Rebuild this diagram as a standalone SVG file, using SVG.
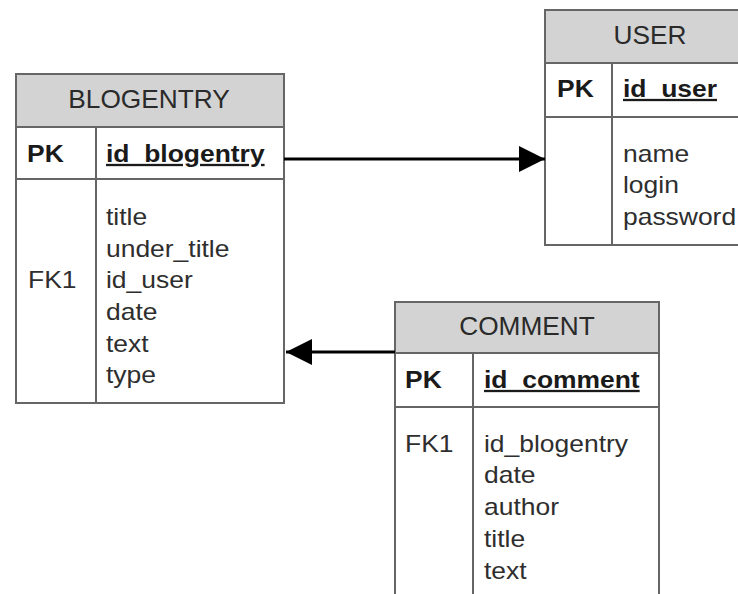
<svg xmlns="http://www.w3.org/2000/svg" width="738" height="594" viewBox="0 0 738 594">
  <style>
    .box { fill: #ffffff; stroke: #666666; stroke-width: 2; }
    .head { fill: #d3d3d3; stroke: #666666; stroke-width: 2; }
    .rule { stroke: #666666; stroke-width: 2; fill: none; }
    .title { font-family: "Liberation Sans", Arial, sans-serif; font-size: 25px; fill: #2a2a2a; text-anchor: middle; }
    .key { font-family: "Liberation Sans", Arial, sans-serif; font-size: 23px; font-weight: bold; fill: #1a1a1a; }
    .pk { font-family: "Liberation Sans", Arial, sans-serif; font-size: 23px; font-weight: bold; fill: #1a1a1a; text-decoration: underline; }
    .fld { font-family: "Liberation Sans", Arial, sans-serif; font-size: 23px; fill: #2e2e2e; }
    .link { stroke: #000000; stroke-width: 3; fill: none; }
  </style>
  <defs>
    <marker id="arrow" viewBox="0 0 26 26" refX="26" refY="13" markerWidth="26" markerHeight="26" markerUnits="userSpaceOnUse" orient="auto">
      <path d="M0,0 L26,13 L0,26 Z" fill="#000000"/>
    </marker>
  </defs>

  <!-- BLOGENTRY table -->
  <g id="blogentry">
    <rect class="box" x="16" y="74" width="268" height="329"/>
    <rect class="head" x="16" y="74" width="268" height="53"/>
    <line class="rule" x1="16" y1="179" x2="284" y2="179"/>
    <line class="rule" x1="96" y1="127" x2="96" y2="403"/>
    <text class="title" transform="translate(149,108) scale(1.05,1)">BLOGENTRY</text>
    <text class="key" transform="translate(27,162) scale(1.15,1)">PK</text>
    <text class="pk" transform="translate(106,162) scale(1.15,1)">id_blogentry</text>
    <text class="fld" transform="translate(28,288.3) scale(1.15,1)">FK1</text>
    <text class="fld" transform="translate(106,225) scale(1.15,1)">title</text>
    <text class="fld" transform="translate(106,256.7) scale(1.15,1)">under_title</text>
    <text class="fld" transform="translate(106,288.3) scale(1.15,1)">id_user</text>
    <text class="fld" transform="translate(106,320) scale(1.15,1)">date</text>
    <text class="fld" transform="translate(106,351.7) scale(1.15,1)">text</text>
    <text class="fld" transform="translate(106,383.3) scale(1.15,1)">type</text>
  </g>

  <!-- USER table -->
  <g id="user">
    <rect class="box" x="545" y="10" width="220" height="235"/>
    <rect class="head" x="545" y="10" width="220" height="53"/>
    <line class="rule" x1="545" y1="117" x2="765" y2="117"/>
    <line class="rule" x1="612" y1="63" x2="612" y2="245"/>
    <text class="title" transform="translate(650,44) scale(1.05,1)">USER</text>
    <text class="key" transform="translate(557,97) scale(1.15,1)">PK</text>
    <text class="pk" transform="translate(623,97) scale(1.15,1)">id_user</text>
    <text class="fld" transform="translate(623,161.7) scale(1.15,1)">name</text>
    <text class="fld" transform="translate(623,193.4) scale(1.15,1)">login</text>
    <text class="fld" transform="translate(623,225.1) scale(1.15,1)">password</text>
  </g>

  <!-- COMMENT table -->
  <g id="comment">
    <rect class="box" x="395" y="302" width="264" height="320"/>
    <rect class="head" x="395" y="302" width="264" height="51"/>
    <line class="rule" x1="395" y1="407" x2="659" y2="407"/>
    <line class="rule" x1="473" y1="353" x2="473" y2="622"/>
    <text class="title" transform="translate(527,335) scale(1.05,1)">COMMENT</text>
    <text class="key" transform="translate(405,388) scale(1.15,1)">PK</text>
    <text class="pk" transform="translate(484,388) scale(1.15,1)">id_comment</text>
    <text class="fld" transform="translate(405,451.7) scale(1.15,1)">FK1</text>
    <text class="fld" transform="translate(484,451.7) scale(1.15,1)">id_blogentry</text>
    <text class="fld" transform="translate(484,483.4) scale(1.15,1)">date</text>
    <text class="fld" transform="translate(484,515.1) scale(1.15,1)">author</text>
    <text class="fld" transform="translate(484,546.8) scale(1.15,1)">title</text>
    <text class="fld" transform="translate(484,578.5) scale(1.15,1)">text</text>
  </g>

  <!-- foreign key references -->
  <g id="connectors">
    <line class="link" x1="284" y1="159" x2="545" y2="159" marker-end="url(#arrow)"/>
    <line class="link" x1="395" y1="352" x2="286" y2="352" marker-end="url(#arrow)"/>
  </g>
</svg>
